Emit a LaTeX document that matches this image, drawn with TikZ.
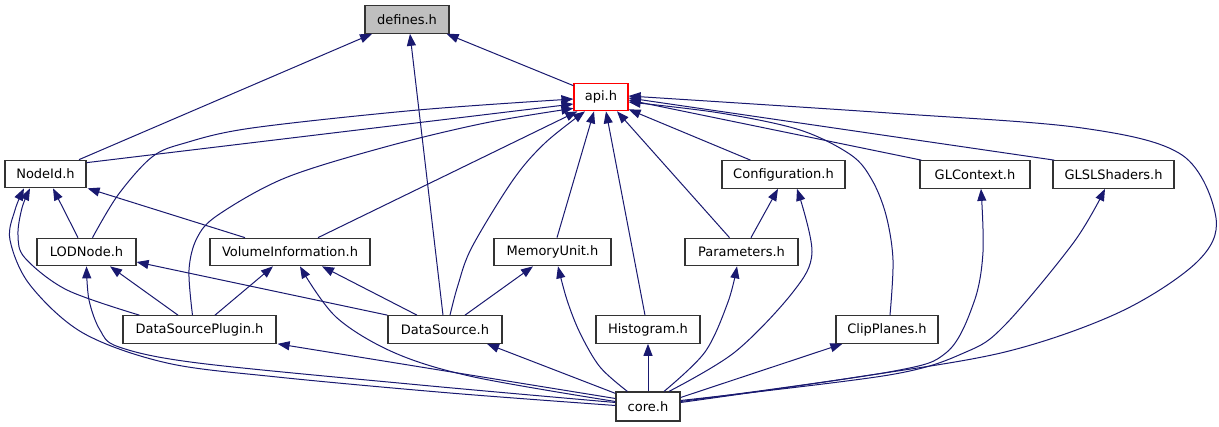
\documentclass[tikz,border=0pt]{standalone}
\usepackage{fontspec}
\setmainfont{DejaVu Sans}
\usetikzlibrary{arrows.meta,calc}
\definecolor{edgeblue}{HTML}{191970}
\begin{document}
\begin{tikzpicture}[x=1pt,y=-1pt,
  box/.style={draw=black!80, line width=1.2pt, fill=white, inner sep=0pt,
    minimum height=27.5pt, font=\fontsize{13}{15}\selectfont, text=black},
  dep/.style={draw=edgeblue, line width=1pt, -{Triangle[length=12pt,width=9pt]}},
  sm/.style={smooth, tension=0.55}]
\useasboundingbox[fill=white] (0,0) rectangle (1219,427);
% nodes
\node[box, minimum width=84pt, fill=black!25] (defines) at (407,19.5) {defines.h};
\node[box, minimum width=54pt, draw=red] (api) at (601,97) {api.h};
\node[box, minimum width=81pt] (NodeId) at (45.5,174) {NodeId.h};
\node[box, minimum width=123pt] (Configuration) at (783.5,174.5) {Configuration.h};
\node[box, minimum width=110pt] (GLContext) at (975,174.5) {GLContext.h};
\node[box, minimum width=121pt] (GLSLShaders) at (1113.5,174.5) {GLSLShaders.h};
\node[box, minimum width=99pt] (LODNode) at (86.5,252) {LODNode.h};
\node[box, minimum width=160pt] (VolInfo) at (290,252) {VolumeInformation.h};
\node[box, minimum width=117pt] (MemoryUnit) at (552.5,252) {MemoryUnit.h};
\node[box, minimum width=113pt] (Parameters) at (741.5,252) {Parameters.h};
\node[box, minimum width=153pt] (DSP) at (199.5,329.5) {DataSourcePlugin.h};
\node[box, minimum width=114pt] (DataSource) at (445,329.5) {DataSource.h};
\node[box, minimum width=104pt] (Histogram) at (648,329.5) {Histogram.h};
\node[box, minimum width=102pt] (ClipPlanes) at (887,329.5) {ClipPlanes.h};
\node[box, minimum width=64pt, minimum height=29pt] (core) at (648,406.5) {core.h};
% edges to defines.h
\draw[dep] ($(NodeId.north)+(33.5,0)$) -- ($(defines.south)+(-35,0)$);
\draw[dep] ($(DataSource.north)+(-2,0)$) -- ($(defines.south)+(3,0)$);
\draw[dep] ($(api.north west)+(0,3)$) -- ($(defines.south east)+(-3,0)$);
% edges to api.h
\draw[dep] ($(NodeId.north east)+(0,3)$) -- ($(api.west)+(0,7)$);
\draw[dep] plot[sm] coordinates {($(LODNode.north)+(6,0)$) (118,195) (152,157) (185,143) (252,128) (418,110) ($(api.west)+(0,2)$)};
\draw[dep] plot[sm] coordinates {($(DSP.north)+(-7,0)$) (189,270) (197,238) (218,215) (285,178) (385,147) (485,123) ($(api.south west)+(0,-3)$)};
\draw[dep] ($(VolInfo.north)+(28,0)$) -- ($(api.south west)+(4,0)$);
\draw[dep] plot[sm] coordinates {($(DataSource.north)+(5,0)$) (458,285) (472,247) (513,180) (545,143) ($(api.south)+(-16,0)$)};
\draw[dep] ($(MemoryUnit.north)+(4.5,0)$) -- ($(api.south)+(-7,0)$);
\draw[dep] ($(Histogram.north)+(-3,0)$) -- ($(api.south)+(5,0)$);
\draw[dep] ($(Parameters.north)+(-12,0)$) -- ($(api.south)+(16,0)$);
\draw[dep] ($(Configuration.north)+(-33,0)$) -- ($(api.south east)+(0,-2)$);
\draw[dep] plot[sm] coordinates {($(ClipPlanes.north)+(3,0)$) (893,260) (886,215) (872,180) (851,155) (800,130) (720,113) ($(api.east)+(0,5)$)};
\draw[dep] ($(GLContext.north west)+(2,0)$) -- ($(api.east)+(0,3)$);
\draw[dep] ($(GLSLShaders.north west)+(2,0)$) -- ($(api.east)+(0,1)$);
\draw[dep] plot[sm] coordinates {($(core.east)+(0,-4)$) (851,378) (1005,352) (1120,312) (1197,262) (1216,218) (1182,155) (1082,128) (889,113) ($(api.east)+(0,-1)$)};
% edges to NodeId.h
\draw[dep] ($(LODNode.north)+(-8.5,0)$) -- ($(NodeId.south)+(7.5,0)$);
\draw[dep] ($(VolInfo.north)+(-45,0)$) -- ($(NodeId.south east)+(1,0)$);
\draw[dep] plot[sm] coordinates {($(DSP.north west)+(17,0)$) (67,290) (25,258) (18,235) (22,208) ($(NodeId.south)+(-15.5,0)$)};
\draw[dep] plot[sm] coordinates {($(core.west)+(0,-1)$) (450,393) (277,377) (167,363) (83,333) (30,285) (10,240) (15,210) ($(NodeId.south)+(-21.5,0)$)};
% edges to LODNode.h
\draw[dep] plot[sm] coordinates {($(core.west)+(0,-4)$) (420,385) (198,363) (119,347) (100,330) (89,300) (LODNode.south)};
\draw[dep] ($(DSP.north)+(-21.5,0)$) -- ($(LODNode.south)+(23.5,0)$);
\draw[dep] (DataSource.north west) -- ($(LODNode.east)+(0,10)$);
% edges to VolumeInformation.h
\draw[dep] plot[sm] coordinates {($(core.west)+(0,-5)$) (474,377) (395,353) (336,317) ($(VolInfo.south)+(10,0)$)};
\draw[dep] ($(DSP.north)+(15.5,0)$) -- ($(VolInfo.south)+(-17,0)$);
\draw[dep] ($(DataSource.north)+(-28,0)$) -- ($(VolInfo.south)+(32,0)$);
% edges to MemoryUnit.h
\draw[dep] ($(DataSource.north)+(20,0)$) -- ($(MemoryUnit.south)+(-19.5,0)$);
\draw[dep] plot[sm] coordinates {($(core.north west)+(12,0)$) (600,367) (580,333) (567,300) ($(MemoryUnit.south)+(5.5,0)$)};
% edges to Configuration.h / Parameters.h
\draw[dep] ($(Parameters.north)+(9.5,0)$) -- ($(Configuration.south)+(-5.5,0)$);
\draw[dep] plot[sm] coordinates {($(core.north)+(21,0)$) (735,352) (793,292) (812,252) ($(Configuration.south)+(13.5,0)$)};
\draw[dep] plot[sm] coordinates {($(core.north)+(16,0)$) (705,352) (728,302) ($(Parameters.south)+(-4.5,0)$)};
% remaining edges from core.h
\draw[dep] ($(core.west)+(0,-8)$) -- ($(DSP.south east)+(1,0)$);
\draw[dep] ($(core.north west)+(0,2)$) -- ($(DataSource.south)+(42,0)$);
\draw[dep] (core.north) -- (Histogram.south);
\draw[dep] ($(core.east)+(0,-9)$) -- ($(ClipPlanes.south west)+(7,0)$);
\draw[dep] plot[sm] coordinates {($(core.east)+(0,-5)$) (889,372) (947,352) (974,302) (983,252) ($(GLContext.south)+(6,0)$)};
\draw[dep] plot[sm] coordinates {($(core.east)+(0,-6)$) (889,375) (966,352) (1005,325) (1074,242) ($(GLSLShaders.south)+(-8.5,0)$)};
\end{tikzpicture}
\end{document}
